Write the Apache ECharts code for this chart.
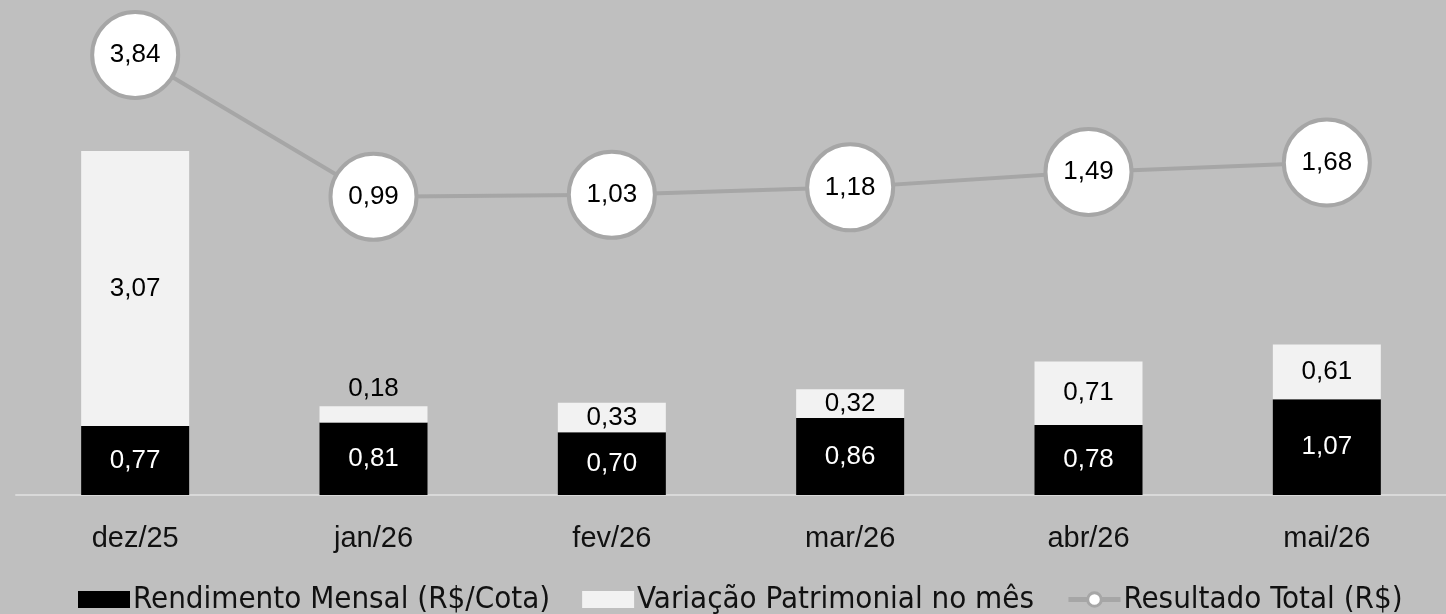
<!DOCTYPE html>
<html><head><meta charset="utf-8">
<script src="https://cdn.jsdelivr.net/npm/echarts@6/dist/echarts.min.js"></script>
<style>html,body{margin:0;padding:0;background:#bfbfbf;}#c{width:1446px;height:614px;}</style>
</head><body><div id="c"></div>
<script>
const categories = ['dez/25','jan/26','fev/26','mar/26','abr/26','mai/26'];
const rendimento = [0.77, 0.81, 0.70, 0.86, 0.78, 1.07];
const variacao = [3.07, 0.18, 0.33, 0.32, 0.71, 0.61];
const resultado = [3.84, 0.99, 1.03, 1.18, 1.49, 1.68];
const fmt = v => v.toFixed(2).replace('.', ',');
const FONT = "'Liberation Sans', Arial, sans-serif";
const chart = echarts.init(document.getElementById('c'));
chart.setOption({
  backgroundColor: '#bfbfbf',
  animation: false,
  textStyle: { fontFamily: FONT },
  grid: { left: 16, right: -8, top: 47, bottom: 119 },
  legend: {
    top: 579, left: 73, itemWidth: 52, itemHeight: 17, itemGap: 32,
    textStyle: { fontSize: 31, color: '#111', padding: [0, 0, 0, -2], fontFamily: "'Liberation Sans Narrow','DejaVu Sans Condensed',sans-serif" },
    data: [
      { name: 'Rendimento Mensal (R$/Cota)', icon: 'rect' },
      { name: 'Variação Patrimonial no mês', icon: 'rect' },
      { name: 'Resultado Total (R$)', itemStyle: { borderWidth: 3 }, lineStyle: { width: 5 } }
    ]
  },
  xAxis: {
    type: 'category', data: categories,
    axisLine: { lineStyle: { color: '#d9d9d9', width: 2 } },
    axisTick: { show: false },
    axisLabel: { fontSize: 29, color: '#111', margin: 29, fontFamily: FONT }
  },
  yAxis: [
    { type: 'value', min: 0, max: 5, show: false, splitLine: { show: false } },
    { type: 'value', min: -5, max: 4, show: false, splitLine: { show: false } }
  ],
  series: [
    {
      name: 'Rendimento Mensal (R$/Cota)', type: 'bar', stack: 's', barWidth: 108,
      itemStyle: { color: '#000' },
      label: { show: true, position: 'inside', color: '#fff', fontSize: 26, formatter: p => fmt(p.value) },
      data: rendimento
    },
    {
      name: 'Variação Patrimonial no mês', type: 'bar', stack: 's', barWidth: 108,
      itemStyle: { color: '#f2f2f2' },
      label: { show: true, position: 'inside', color: '#000', fontSize: 26, formatter: p => fmt(p.value) },
      data: variacao.map((v, i) => i === 1 ? { value: v, label: { position: 'top', distance: 4 } } : v)
    },
    {
      name: 'Resultado Total (R$)', type: 'line', yAxisIndex: 1, z: 5,
      symbol: 'circle', symbolSize: 86,
      lineStyle: { color: '#a6a6a6', width: 4 },
      itemStyle: { color: '#fff', borderColor: '#a6a6a6', borderWidth: 4 },
      label: { show: true, position: 'inside', color: '#000', fontSize: 26, formatter: p => fmt(p.value) },
      data: resultado
    }
  ]
});
</script></body></html>
